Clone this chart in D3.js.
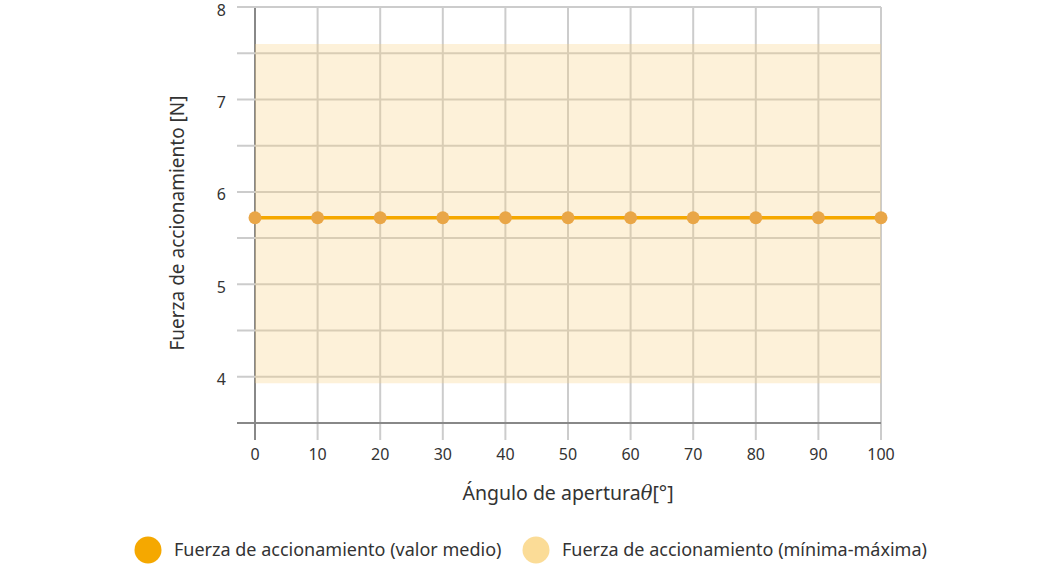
<!DOCTYPE html>
<html><head><meta charset="utf-8">
<script src="https://cdn.jsdelivr.net/npm/d3@7"></script>
<style>body{margin:0;background:#fff;font-family:"Noto Sans",sans-serif;}</style>
</head><body>
<svg id="c" width="1060" height="568"></svg>
<script>
const angles = [0,10,20,30,40,50,60,70,80,90,100];
const meanForce = [5.72,5.72,5.72,5.72,5.72,5.72,5.72,5.72,5.72,5.72,5.72];
const minForce = [3.93,3.93,3.93,3.93,3.93,3.93,3.93,3.93,3.93,3.93,3.93];
const maxForce = [7.6,7.6,7.6,7.6,7.6,7.6,7.6,7.6,7.6,7.6,7.6];
const xTicks = [0,10,20,30,40,50,60,70,80,90,100];
const yTicks = [4,5,6,7,8];
const yGrid = [3.5,4,4.5,5,5.5,6,6.5,7,7.5,8];
const legendLabels = ["Fuerza de accionamiento (valor medio)","Fuerza de accionamiento (mínima-máxima)"];

const svg = d3.select("#c");
const x = d3.scaleLinear().domain([0,100]).range([255,881]);
const y = d3.scaleLinear().domain([3.5,8]).range([423,7]);
const font = '"Noto Sans",sans-serif';

// vertical grid
svg.append("g").selectAll("line").data(xTicks).join("line")
  .attr("x1",d=>x(d)).attr("x2",d=>x(d)).attr("y1",y(8)).attr("y2",440)
  .attr("stroke",d=>d===0?"#888":"#ccc").attr("stroke-width",2);
// horizontal grid
svg.append("g").selectAll("line").data(yGrid).join("line")
  .attr("x1",237).attr("x2",x(100)).attr("y1",d=>y(d)).attr("y2",d=>y(d))
  .attr("stroke",d=>d===3.5?"#888":"#ccc").attr("stroke-width",2);

// band
const data = angles.map((a,i)=>({a,m:meanForce[i],lo:minForce[i],hi:maxForce[i]}));
svg.append("path").datum(data)
  .attr("d",d3.area().x(d=>x(d.a)).y0(d=>y(d.lo)).y1(d=>y(d.hi)))
  .attr("fill","rgba(250,210,130,0.3)");

// line
svg.append("path").datum(data)
  .attr("d",d3.line().x(d=>x(d.a)).y(d=>y(d.m)))
  .attr("fill","none").attr("stroke","#f5a800").attr("stroke-width",3.5);
svg.append("g").selectAll("circle").data(data).join("circle")
  .attr("cx",d=>x(d.a)).attr("cy",d=>y(d.m)).attr("r",6.5)
  .attr("fill","#e9a647");

// tick labels
svg.append("g").selectAll("text").data(yTicks).join("text")
  .attr("x",226).attr("y",d=>y(d)+3).attr("dy","0.35em").attr("text-anchor","end")
  .attr("font-family",font).attr("font-size",16).attr("fill","#333").text(d=>d);
svg.append("g").selectAll("text").data(xTicks).join("text")
  .attr("x",d=>x(d)).attr("y",454).attr("dy","0.35em").attr("text-anchor","middle")
  .attr("font-family",font).attr("font-size",16).attr("fill","#333").text(d=>d);

// axis titles
svg.append("text").attr("transform","translate(184,223) rotate(-90)")
  .attr("text-anchor","middle").attr("font-family",font).attr("font-size",19).attr("fill","#333")
  .text("Fuerza de accionamiento [N]");
const xt = svg.append("text").attr("x",568).attr("y",500).attr("text-anchor","middle")
  .attr("font-family",font).attr("font-size",19.5).attr("fill","#333");
xt.append("tspan").text("Ángulo de apertura");
xt.append("tspan").attr("font-style","italic").attr("font-family","'DejaVu Serif',serif").text("θ");
xt.append("tspan").text("[°]");

// legend
const lg = [{cx:148,tx:174,c:"#f5a800"},{cx:536,tx:562,c:"#fbdc97"}];
lg.forEach((l,i)=>{
  svg.append("circle").attr("cx",l.cx).attr("cy",550).attr("r",13.5).attr("fill",l.c);
  svg.append("text").attr("x",l.tx).attr("y",550).attr("dy","0.35em")
    .attr("font-family",font).attr("font-size",18).attr("fill","#333").text(legendLabels[i]);
});
</script>
</body></html>
